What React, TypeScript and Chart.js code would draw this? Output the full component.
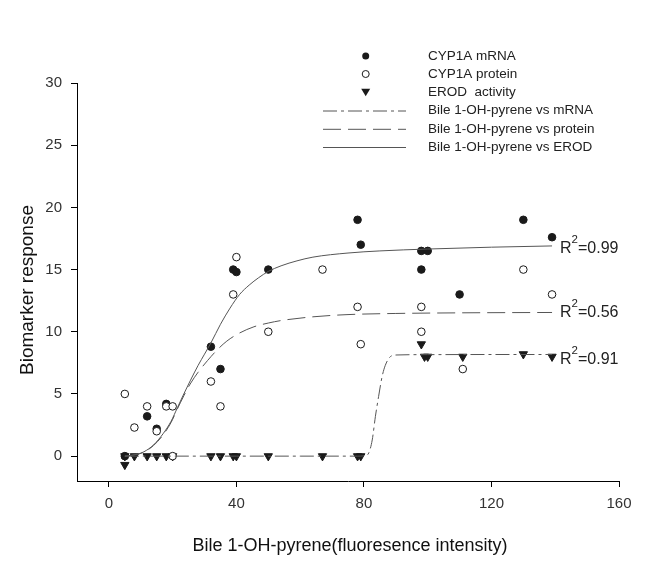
import React, { useEffect, useRef } from "react";
import { Chart, registerables } from "chart.js";

Chart.register(...registerables);

// ---- observed data ----
const mrnaX = [5, 12, 15, 18, 32, 35, 39, 40, 50, 78, 79, 98, 100, 98, 110, 130, 139];
const mrnaY = [0, 3.2, 2.2, 4.2, 8.8, 7, 15, 14.8, 15, 19, 17, 16.5, 16.5, 15, 13, 19, 17.6];

const proteinX = [5, 8, 12, 15, 18, 20, 20, 32, 35, 39, 40, 50, 67, 78, 79, 98, 98, 111, 130, 139];
const proteinY = [5, 2.3, 4, 2, 4, 4, 0, 6, 4, 13, 16, 10, 15, 12, 9, 12, 10, 7, 15, 13];

const erodX = [5, 5, 8, 12, 15, 18, 20, 32, 35, 39, 40, 50, 67, 78, 79, 98, 99, 100, 111, 130, 139];
const erodY = [0, -0.7, 0, 0, 0, 0, 0, 0, 0, 0, 0, 0, 0, 0, 0, 9, 8, 8, 8, 8.2, 8];

// ---- fitted curves ----
const fitSolidX = [5, 9, 11, 14, 17, 19.5, 21.5, 23.5, 25.5, 28, 30, 32, 35, 38, 41, 44, 47, 50, 54, 59, 64, 75, 85, 100, 120, 139];
const fitSolidY = [0, 0.16, 0.35, 0.9, 1.8, 2.8, 3.9, 5.0, 6.05, 7.3, 8.2, 9.1, 10.6, 11.9, 13.0, 13.75, 14.35, 14.85, 15.3, 15.7, 16.0, 16.33, 16.5, 16.65, 16.8, 16.9];

const fitDashX = [5, 9, 11, 14, 17, 19.5, 21.5, 23.5, 25.5, 28, 31, 34, 37, 41, 45.5, 50, 54, 64, 75, 90, 110, 139];
const fitDashY = [0, 0.15, 0.33, 0.85, 1.7, 2.7, 3.8, 4.85, 5.8, 6.75, 7.7, 8.55, 9.25, 9.9, 10.4, 10.7, 10.9, 11.2, 11.38, 11.47, 11.52, 11.55];

const fitDashDotX = [5, 20, 40, 60, 78, 80.5, 81.5, 82.6, 83.6, 84.6, 85.7, 86.7, 88.3, 90, 100, 120, 139];
const fitDashDotY = [0, 0, 0, 0, 0, 0.05, 0.25, 1.3, 3.2, 4.8, 6.4, 7.3, 8.0, 8.13, 8.16, 8.17, 8.17];

const xTicks = [0, 40, 80, 120, 160];
const yTicks = [0, 5, 10, 15, 20, 25, 30];

const legendMarkers = ["CYP1A mRNA", "CYP1A protein", "EROD  activity"];
const legendLines = [
  "Bile 1-OH-pyrene vs mRNA",
  "Bile 1-OH-pyrene vs protein",
  "Bile 1-OH-pyrene vs EROD",
];

const r2Values = ["0.99", "0.56", "0.91"];
const r2AnchorY = [16.3, 11.16, 7.4];
const r2AnchorX = 139;

const xTitle = "Bile 1-OH-pyrene(fluoresence intensity)";
const yTitle = "Biomarker response";

const FONT = "'Liberation Sans', Arial, sans-serif";
const MARK = "#1a1a1a";
const LINE = "#555555";
const DASH = [18, 7];
const DASHDOT = [14, 4, 3, 4];

const zip = (xs: number[], ys: number[]) => xs.map((x, i) => ({ x, y: ys[i] }));

function drawMarker(ctx: CanvasRenderingContext2D, kind: string, x: number, y: number) {
  ctx.save();
  ctx.lineWidth = 1;
  ctx.strokeStyle = MARK;
  ctx.fillStyle = MARK;
  if (kind === "filled") {
    ctx.beginPath();
    ctx.arc(x, y, 3.5, 0, Math.PI * 2);
    ctx.fill();
  } else if (kind === "open") {
    ctx.beginPath();
    ctx.arc(x, y, 3.5, 0, Math.PI * 2);
    ctx.fillStyle = "#fff";
    ctx.fill();
    ctx.stroke();
  } else {
    const r = 4.5;
    ctx.beginPath();
    ctx.moveTo(x - r, y - r * 0.8);
    ctx.lineTo(x + r, y - r * 0.8);
    ctx.lineTo(x, y + r * 0.9);
    ctx.closePath();
    ctx.fill();
  }
  ctx.restore();
}

const overlayPlugin = {
  id: "overlay",
  afterDraw(chart: any) {
    const ctx: CanvasRenderingContext2D = chart.ctx;
    const xs = chart.scales.x;
    const ys = chart.scales.y;
    ctx.save();

    // legend
    const rows = [56, 74, 92.3, 110.5, 128.8, 147];
    const kinds = ["filled", "open", "tri"];
    ctx.font = `13.5px ${FONT}`;
    ctx.fillStyle = "#222";
    ctx.textBaseline = "middle";
    ctx.textAlign = "left";
    legendMarkers.forEach((t, i) => {
      drawMarker(ctx, kinds[i], 365.7, rows[i]);
      ctx.fillStyle = "#222";
      ctx.fillText(t, 428, rows[i]);
    });
    const dashes = [DASHDOT, DASH, []];
    legendLines.forEach((t, i) => {
      const y = rows[i + 3];
      ctx.save();
      ctx.strokeStyle = LINE;
      ctx.lineWidth = 1;
      ctx.setLineDash(dashes[i]);
      ctx.beginPath();
      ctx.moveTo(323, y + 0.5);
      ctx.lineTo(406, y + 0.5);
      ctx.stroke();
      ctx.restore();
      ctx.fillStyle = "#222";
      ctx.fillText(t, 428, y);
    });

    // R^2 labels
    ctx.textBaseline = "alphabetic";
    r2Values.forEach((v, i) => {
      let x = xs.getPixelForValue(r2AnchorX) + 8;
      const y = ys.getPixelForValue(r2AnchorY[i]);
      ctx.fillStyle = "#222";
      ctx.font = `16px ${FONT}`;
      ctx.fillText("R", x, y);
      x += ctx.measureText("R").width;
      ctx.font = `11.5px ${FONT}`;
      ctx.fillText("2", x, y - 10);
      x += ctx.measureText("2").width;
      ctx.font = `16px ${FONT}`;
      ctx.fillText("=" + v, x, y);
    });

    // axis titles
    ctx.fillStyle = "#111";
    ctx.font = `18px ${FONT}`;
    ctx.textAlign = "center";
    ctx.textBaseline = "alphabetic";
    ctx.fillText(xTitle, 350, 551);

    ctx.save();
    ctx.translate(33.3, 290);
    ctx.rotate(-Math.PI / 2);
    ctx.font = `19px ${FONT}`;
    ctx.textAlign = "center";
    ctx.textBaseline = "alphabetic";
    ctx.fillText(yTitle, 0, 0);
    ctx.restore();

    ctx.restore();
  },
};

export default function App() {
  const ref = useRef<HTMLCanvasElement | null>(null);

  useEffect(() => {
    if (!ref.current) return;
    const tickFont = { family: FONT, size: 15 };
    const chart = new Chart(ref.current, {
      type: "scatter",
      data: {
        datasets: [
          {
            label: "fit mRNA",
            data: zip(fitDashDotX, fitDashDotY),
            showLine: true,
            borderColor: LINE,
            borderWidth: 1,
            borderDash: DASHDOT,
            pointRadius: 0,
            cubicInterpolationMode: "monotone",
            order: 0,
          } as any,
          {
            label: "fit protein",
            data: zip(fitDashX, fitDashY),
            showLine: true,
            borderColor: LINE,
            borderWidth: 1,
            borderDash: DASH,
            pointRadius: 0,
            cubicInterpolationMode: "monotone",
            order: 0,
          } as any,
          {
            label: "fit EROD",
            data: zip(fitSolidX, fitSolidY),
            showLine: true,
            borderColor: LINE,
            borderWidth: 1,
            pointRadius: 0,
            cubicInterpolationMode: "monotone",
            order: 0,
          } as any,
          {
            label: "CYP1A protein",
            data: zip(proteinX, proteinY),
            pointStyle: "circle",
            pointRadius: 3.8,
            pointBackgroundColor: "#ffffff",
            pointBorderColor: MARK,
            pointBorderWidth: 1,
            order: 1,
          },
          {
            label: "CYP1A mRNA",
            data: zip(mrnaX, mrnaY),
            pointStyle: "circle",
            pointRadius: 3.8,
            pointBackgroundColor: MARK,
            pointBorderColor: MARK,
            pointBorderWidth: 1,
            order: 2,
          },
          {
            label: "EROD activity",
            data: zip(erodX, erodY),
            pointStyle: "triangle",
            pointRotation: 180,
            pointRadius: 4.8,
            pointBackgroundColor: MARK,
            pointBorderColor: MARK,
            pointBorderWidth: 1,
            order: 3,
          },
        ],
      },
      options: {
        responsive: false,
        animation: false,
        devicePixelRatio: 1,
        layout: { padding: { top: 83, right: 32, left: 0, bottom: 0 } },
        plugins: {
          legend: { display: false },
          tooltip: { enabled: false },
          title: { display: false },
        },
        scales: {
          x: {
            type: "linear",
            min: -10,
            max: 160,
            afterBuildTicks: (s: any) => {
              s.ticks = xTicks.map((v) => ({ value: v }));
            },
            afterFit: (s: any) => {
              s.height = 80;
            },
            ticks: { font: tickFont, color: "#333", padding: 8, maxRotation: 0 },
            grid: { drawOnChartArea: false, drawTicks: true, tickLength: 6, color: "#000" },
            border: { display: true, color: "#000", width: 1 },
          },
          y: {
            type: "linear",
            min: -2,
            max: 30,
            afterBuildTicks: (s: any) => {
              s.ticks = yTicks.map((v) => ({ value: v }));
            },
            afterFit: (s: any) => {
              s.width = 77;
            },
            ticks: { font: tickFont, color: "#333", padding: 9 },
            grid: { drawOnChartArea: false, drawTicks: true, tickLength: 6, color: "#000" },
            border: { display: true, color: "#000", width: 1 },
          },
        },
      },
      plugins: [overlayPlugin],
    });
    return () => chart.destroy();
  }, []);

  return (
    <div
      style={{
        position: "fixed",
        left: 0,
        top: 0,
        width: 651,
        height: 561,
        background: "#fff",
      }}
    >
      <canvas ref={ref} width={651} height={561} style={{ display: "block" }} />
    </div>
  );
}
